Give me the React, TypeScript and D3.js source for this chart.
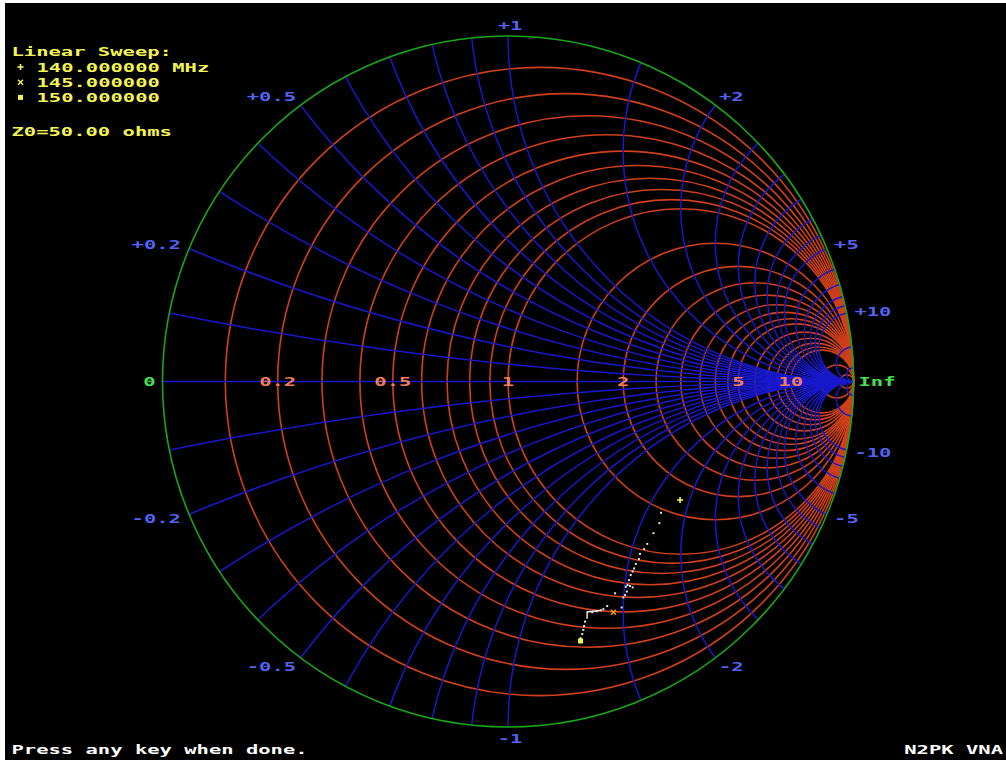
import React from "react";
import * as d3 from "d3";

const W = 1006;
const H = 760;
const CX = 508;
const CY = 381.5;
const RAD = 345.5;

// grid values (normalized impedance)
const resistances = [0.1, 0.2, 0.3, 0.4, 0.5, 0.6, 0.7, 0.8, 0.9, 1, 1.5, 2, 2.5, 3, 3.5, 4, 4.5, 5, 6, 7, 8, 9, 10, 20, 50];
const reactances = [0.1, 0.2, 0.3, 0.4, 0.5, 0.6, 0.7, 0.8, 0.9, 1, 1.5, 2, 2.5, 3, 3.5, 4, 4.5, 5, 6, 7, 8, 9, 10, 20, 50];
const resistanceLabels = ["0.2", "0.5", "1", "2", "5", "10"];
const reactanceLabels = ["0.2", "0.5", "1", "2", "5", "10"];

// legend
const legendTitle = "Linear Sweep:";
const legendFreqs = ["140.000000 MHz", "145.000000", "150.000000"];
const z0Text = "Z0=50.00 ohms";
const footerLeft = "Press any key when done.";
const footerRight = "N2PK VNA";

// measured sweep, reflection coefficient (real, imag)
const traceRe = [0.443, 0.438, 0.421, 0.403, 0.394, 0.382, 0.379, 0.370, 0.365, 0.361, 0.355, 0.350, 0.346, 0.341, 0.353, 0.361, 0.344, 0.339, 0.334, 0.310, 0.329, 0.287, 0.276, 0.269, 0.257, 0.244, 0.223, 0.220, 0.218, 0.215, 0.210];
const traceIm = [-0.380, -0.410, -0.439, -0.470, -0.485, -0.499, -0.514, -0.528, -0.541, -0.550, -0.560, -0.575, -0.589, -0.594, -0.592, -0.596, -0.608, -0.618, -0.625, -0.613, -0.654, -0.650, -0.659, -0.662, -0.665, -0.668, -0.695, -0.708, -0.719, -0.731, -0.743];
const stepRe = [0.266, 0.229, 0.229];
const stepIm = [-0.663, -0.667, -0.687];
// markers: 140, 145, 150 MHz
const markerRe = [0.498, 0.305, 0.210];
const markerIm = [-0.343, -0.668, -0.751];

const xs = d3.scaleLinear().domain([-1, 1]).range([CX - RAD, CX + RAD]);
const ys = d3.scaleLinear().domain([-1, 1]).range([CY + RAD, CY - RAD]);
const len = (v: number) => xs(v) - xs(0);

const FONT = "'DejaVu Sans Mono', 'Liberation Mono', monospace";
const FS = 13;
const ADV = 12.35;
const SX = ADV / (FS * 0.602);

const ORANGE = "#d0401a";
const BLUE = "#1818cc";
const GREEN = "#18a818";
const YELLOW = "#f4f456";
const SALMON = "#f27c5c";
const LBLUE = "#5262f2";
const LGREEN = "#44e050";

function T(props: { x: number; y: number; fill: string; anchor?: string; children: string }) {
  return (
    <text
      transform={`translate(${props.x},${props.y}) scale(${SX},1)`}
      textAnchor={props.anchor || "start"}
      fontFamily={FONT}
      fontSize={FS}
      fontWeight="bold"
      fill={props.fill}
      style={{ whiteSpace: "pre" }}
    >
      {props.children}
    </text>
  );
}

function Marker({ kind, x, y, color }: { kind: number; x: number; y: number; color: string }) {
  if (kind === 0) {
    return (
      <g stroke={color} strokeWidth={1.6}>
        <line x1={x - 3} x2={x + 3} y1={y} y2={y} />
        <line x1={x} x2={x} y1={y - 3} y2={y + 3} />
      </g>
    );
  }
  if (kind === 1) {
    return (
      <g stroke={color} strokeWidth={1.4}>
        <line x1={x - 2.5} x2={x + 2.5} y1={y - 2.5} y2={y + 2.5} />
        <line x1={x - 2.5} x2={x + 2.5} y1={y + 2.5} y2={y - 2.5} />
      </g>
    );
  }
  return <rect x={x - 2.5} y={y - 2.5} width={5} height={5} fill={color} />;
}

export default function App() {
  const baseCap = FS * 0.36;
  return (
    <svg width={W} height={H} style={{ position: "absolute", left: 0, top: 0, display: "block" }}>
      <defs>
        <clipPath id="unit">
          <circle cx={xs(0)} cy={ys(0)} r={len(1)} />
        </clipPath>
      </defs>
      <rect x={0} y={0} width={W} height={H} fill="#ffffff" />
      <rect x={5} y={3} width={W - 5} height={H - 3} fill="#000000" />

      {/* resistance circles */}
      <g fill="none" stroke={ORANGE} strokeWidth={1.6}>
        {resistances.map((r) => (
          <circle key={r} cx={xs(r / (1 + r))} cy={ys(0)} r={len(1 / (1 + r))} />
        ))}
      </g>

      {/* reactance arcs */}
      <g fill="none" stroke={BLUE} strokeWidth={1.5} clipPath="url(#unit)">
        {reactances.map((x) => (
          <g key={x}>
            <circle cx={xs(1)} cy={ys(1 / x)} r={len(1 / x)} />
            <circle cx={xs(1)} cy={ys(-1 / x)} r={len(1 / x)} />
          </g>
        ))}
        <line x1={xs(-1)} x2={xs(1)} y1={ys(0)} y2={ys(0)} />
      </g>

      <circle cx={xs(0)} cy={ys(0)} r={len(1)} fill="none" stroke={GREEN} strokeWidth={1.6} />

      {/* resistance labels */}
      {resistanceLabels.map((s) => {
        const r = +s;
        const g = (r - 1) / (r + 1);
        return (
          <T key={s} x={xs(g)} y={ys(0) + baseCap} fill={SALMON} anchor="middle">
            {s}
          </T>
        );
      })}
      <T x={xs(-1) - 13} y={ys(0) + baseCap} fill={LGREEN} anchor="middle">
        0
      </T>
      <T x={xs(1) + 5} y={ys(0) + baseCap} fill={LGREEN}>
        Inf
      </T>

      {/* reactance labels */}
      {reactanceLabels.flatMap((s) => {
        const x = +s;
        const th = Math.PI - 2 * Math.atan(x);
        return [1, -1].map((sg) => {
          const txt = (sg > 0 ? "+" : "-") + s;
          const rho = len(1) + 11;
          const c = Math.cos(th);
          const px = xs(0) + rho * c;
          const py = ys(0) - sg * rho * Math.sin(th);
          const anchor = c < -0.1 ? "end" : c > 0.1 ? "start" : "middle";
          return (
            <T key={txt} x={px + (c > 0.1 ? -3 : 2)} y={py + baseCap} fill={LBLUE} anchor={anchor}>
              {txt}
            </T>
          );
        });
      })}

      {/* sweep trace */}
      <polyline
        points={stepRe.map((v, i) => `${xs(v)},${ys(stepIm[i])}`).join(" ")}
        fill="none"
        stroke="#e8e8e8"
        strokeWidth={1.5}
      />
      {traceRe.map((v, i) => (
        <rect key={i} x={xs(v) - 1} y={ys(traceIm[i]) - 1} width={2} height={2} fill="#e4e4e4" />
      ))}
      {markerRe.map((v, i) => (
        <Marker key={i} kind={i} x={xs(v)} y={ys(markerIm[i])} color={i === 1 ? "#f0a020" : YELLOW} />
      ))}

      {/* legend */}
      <T x={11.5} y={55.5} fill={YELLOW}>{legendTitle}</T>
      {legendFreqs.map((f, i) => (
        <g key={f}>
          <Marker kind={i} x={20.5} y={67 + i * 15.2} color={YELLOW} />
          <T x={36.5} y={72 + i * 15.2} fill={YELLOW}>{f}</T>
        </g>
      ))}
      <T x={11.5} y={135.5} fill={YELLOW}>{z0Text}</T>

      <T x={11.5} y={753.5} fill="#ffffff">{footerLeft}</T>
      <T x={1003} y={753.5} fill="#ffffff" anchor="end">{footerRight}</T>
    </svg>
  );
}
